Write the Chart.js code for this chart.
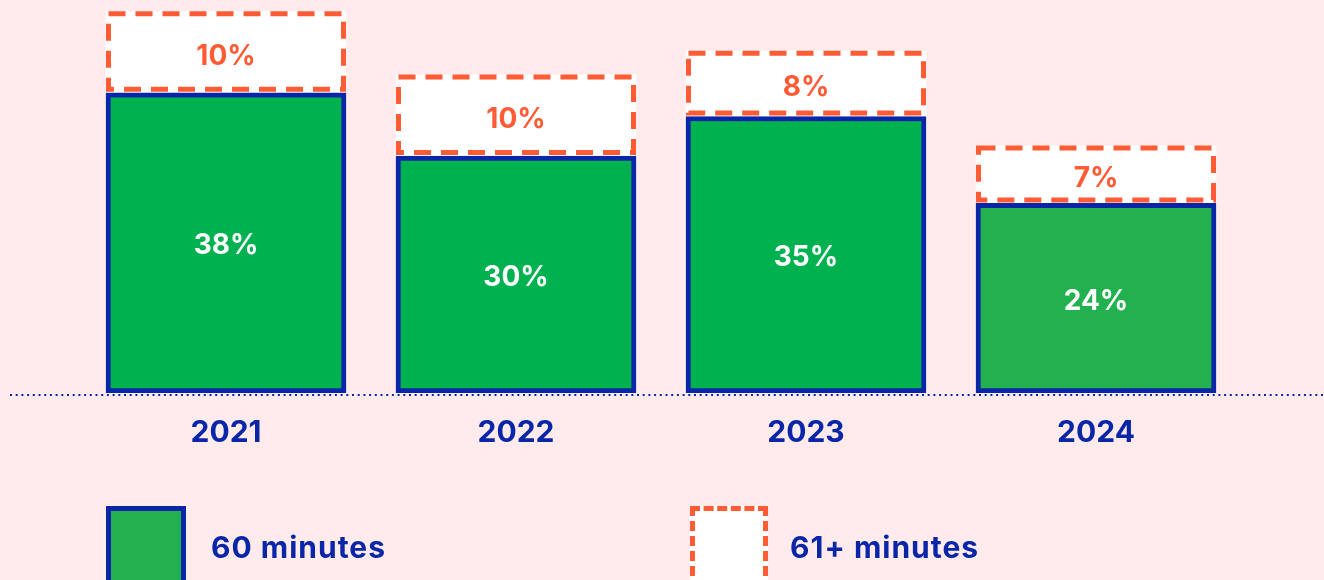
<!DOCTYPE html>
<html>
<head>
<meta charset="utf-8">
<script src="https://cdn.jsdelivr.net/npm/chart.js@4/dist/chart.umd.min.js"></script>
<style>
  html, body { margin: 0; padding: 0; background: #FFEBEB; overflow: hidden; }
  .wrap { position: relative; width: 1324px; height: 580px; overflow: hidden; }
  canvas { position: absolute; left: 0; top: 0; }
  .legend-box { position: absolute; top: 506px; width: 80px; height: 100px; box-sizing: border-box; border-width: 5px; }
  .legend-text { position: absolute; top: 526px; font: 700 30px Inter, sans-serif; color: #0A26A8; line-height: 42px; letter-spacing: 1px; }
</style>
</head>
<body>
<div class="wrap">
  <canvas id="chart" width="1324" height="580"></canvas>
  <div class="legend-box" style="left:106px; background:#23B14F; border-style:solid; border-color:#0A26A8;"></div>
  <div class="legend-text" style="left:211px;">60 minutes</div>
  <div class="legend-box" style="left:690px; width:78px; background:#FFFFFF; border-style:dashed; border-color:#FF5B35;"></div>
  <div class="legend-text" style="left:790px;">61+ minutes</div>
</div>
<script>
const years = ['2021', '2022', '2023', '2024'];
const sixtyMinutes = [38, 30, 35, 24];
const overSixty = [10, 10, 8, 7];
const greenColors = ['#00B14F', '#00B14F', '#00B14F', '#23B14F'];

const BLUE = '#0A26A8';
const ORANGE = '#FF5B35';

// dotted baseline under the bars
const baseline = {
  id: 'baseline',
  beforeDatasetsDraw(chart) {
    const ctx = chart.ctx;
    const y = chart.scales.y.getPixelForValue(0) + 2;
    ctx.save();
    ctx.strokeStyle = BLUE;
    ctx.lineWidth = 2;
    ctx.setLineDash([2, 3.7]);
    ctx.beginPath();
    ctx.moveTo(10, y);
    ctx.lineTo(chart.width, y);
    ctx.stroke();
    ctx.restore();
  }
};

// dashed outline for the 61+ segment and the value labels
const overlay = {
  id: 'overlay',
  afterDatasetsDraw(chart) {
    const ctx = chart.ctx;
    ctx.save();
    chart.getDatasetMeta(1).data.forEach(bar => {
      const p = bar.getProps(['x', 'y', 'base', 'width']);
      const l = p.x - p.width / 2 + 2.5;
      const r = p.x + p.width / 2 - 2.5;
      const t = p.y;
      const b = p.base - 3.5;
      ctx.fillStyle = '#FFFFFF';
      ctx.fillRect(l - 2.5, t - 2.5, r - l + 5, b - t + 5);
      ctx.strokeStyle = ORANGE;
      ctx.lineWidth = 5;
      ctx.setLineDash([17, 10]);
      ctx.strokeRect(l, t, r - l, b - t);
    });
    ctx.setLineDash([]);
    ctx.font = '700 28px Inter, sans-serif';
    ctx.textAlign = 'center';
    ctx.textBaseline = 'middle';
    [0, 1].forEach(i => {
      const values = chart.data.datasets[i].data;
      ctx.fillStyle = i === 0 ? '#FFFFFF' : ORANGE;
      chart.getDatasetMeta(i).data.forEach((bar, j) => {
        const p = bar.getProps(['x', 'y', 'base']);
        ctx.fillText(values[j] + '%', p.x, (p.y + p.base) / 2 + 3);
      });
    });
    ctx.restore();
  }
};

new Chart(document.getElementById('chart'), {
  type: 'bar',
  data: {
    labels: years,
    datasets: [
      {
        label: '60 minutes',
        data: sixtyMinutes,
        backgroundColor: greenColors,
        borderColor: BLUE,
        borderWidth: 5,
        borderSkipped: false
      },
      {
        label: '61+ minutes',
        data: overSixty,
        backgroundColor: '#FFFFFF',
        borderWidth: 0
      }
    ]
  },
  options: {
    responsive: false,
    animation: false,
    layout: { padding: { left: 81, right: 83, top: 0, bottom: 107 } },
    barThickness: 240,
    plugins: {
      legend: { display: false },
      tooltip: { enabled: false }
    },
    scales: {
      x: {
        stacked: true,
        grid: { display: false, drawTicks: false },
        border: { display: false },
        ticks: {
          color: BLUE,
          padding: 22,
          font: { family: 'Inter', size: 30, weight: '700' }
        }
      },
      y: {
        stacked: true,
        display: false,
        min: 0,
        max: 49.75
      }
    }
  },
  plugins: [baseline, overlay]
});
</script>
</body>
</html>
